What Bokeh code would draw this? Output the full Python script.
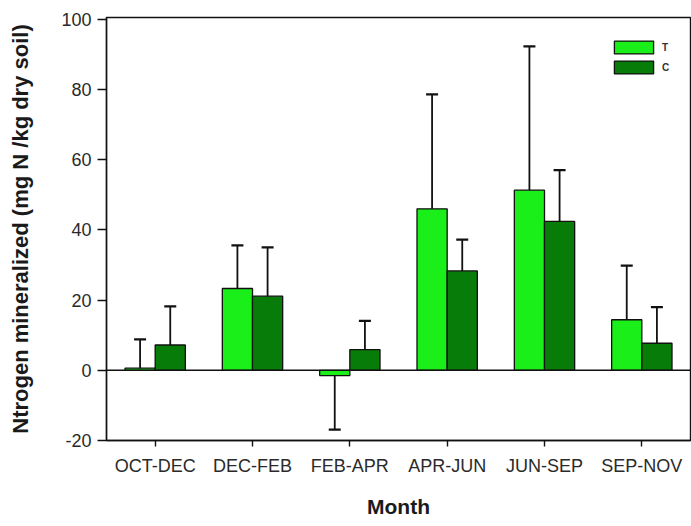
from bokeh.plotting import figure
from bokeh.models import (ColumnDataSource, FactorRange, Range1d, FixedTicker, Whisker,
                          TeeHead, Span, Legend, LegendItem)
from bokeh.transform import dodge
from bokeh.embed import file_html
from bokeh.resources import INLINE

# Sampling periods and nitrogen mineralization (mg N / kg dry soil)
months = ["OCT-DEC", "DEC-FEB", "FEB-APR", "APR-JUN", "JUN-SEP", "SEP-NOV"]
t_values = [0.6, 23.3, -1.5, 46.0, 51.3, 14.4]
t_errors = [8.2, 12.3, 15.4, 32.6, 41.0, 15.4]
c_values = [7.2, 21.1, 5.9, 28.3, 42.4, 7.7]
c_errors = [11.0, 13.9, 8.2, 8.9, 14.6, 10.3]
y_ticks = [-20, 0, 20, 40, 60, 80, 100]

T_COLOR = "#1aef1a"
C_COLOR = "#087c08"
FONT = "Liberation Sans"


def tips(vals, errs):
    # error bars extend away from zero, in the direction of the mean
    return [v + e if v >= 0 else v - e for v, e in zip(vals, errs)]


src = ColumnDataSource(dict(
    month=months,
    t=t_values, t_tip=tips(t_values, t_errors),
    c=c_values, c_tip=tips(c_values, c_errors),
))

p = figure(width=691, height=526, x_range=FactorRange(*months, range_padding=0),
           y_range=Range1d(-20, 100.5), output_backend="svg", toolbar_location=None,
           min_border_left=106, min_border_right=1, min_border_top=17, min_border_bottom=86)
p.background_fill_color = "white"
p.border_fill_color = "white"
p.outline_line_color = "#111111"
p.outline_line_width = 1.4
p.xgrid.visible = False
p.ygrid.visible = False

# error bars first, bars drawn on top
for col, tip, off in (("t", "t_tip", -0.155), ("c", "c_tip", 0.155)):
    w = Whisker(source=src, base=dodge("month", off, range=p.x_range), lower=col, upper=tip,
                line_color="#111111", line_width=1.8, lower_head=None,
                upper_head=TeeHead(size=12, line_color="#111111", line_width=2.2),
                level="glyph")
    p.add_layout(w)

rt = p.vbar(x=dodge("month", -0.155, range=p.x_range), top="t", bottom=0, width=0.31,
            source=src, fill_color=T_COLOR, line_color="#111111", line_width=1.3)
rc = p.vbar(x=dodge("month", 0.155, range=p.x_range), top="c", bottom=0, width=0.31,
            source=src, fill_color=C_COLOR, line_color="#111111", line_width=1.3)

p.add_layout(Span(location=0, dimension="width", line_color="#111111", line_width=1.4))

legend = Legend(items=[LegendItem(label="T", renderers=[rt]), LegendItem(label="C", renderers=[rc])],
                location=(503, 365), orientation="vertical",
                glyph_width=49, glyph_height=16, label_height=16, label_width=8,
                spacing=4, padding=0, margin=0, label_standoff=4,
                border_line_color=None, background_fill_alpha=0,
                label_text_font=FONT, label_text_font_size="10px",
                label_text_font_style="bold", label_text_color="#333333")
p.add_layout(legend)

# y axis
p.yaxis.ticker = FixedTicker(ticks=y_ticks)
p.yaxis.major_label_overrides = {t: str(t) for t in y_ticks}
p.yaxis.axis_label = "Ntrogen mineralized (mg N /kg dry soil)"
p.yaxis.axis_label_text_font = FONT
p.yaxis.axis_label_text_font_size = "22px"
p.yaxis.axis_label_text_font_style = "bold"
p.yaxis.axis_label_text_color = "#1a1a1a"
p.yaxis.axis_label_standoff = 25
p.yaxis.major_label_text_font = FONT
p.yaxis.major_label_text_font_size = "18px"
p.yaxis.major_label_text_color = "#2a2a2a"
p.yaxis.major_label_standoff = 6
p.yaxis.major_tick_out = 9
p.yaxis.major_tick_in = 0
p.yaxis.minor_tick_line_color = None

# x axis
p.xaxis.axis_label = "Month"
p.xaxis.axis_label_text_font = FONT
p.xaxis.axis_label_text_font_size = "21px"
p.xaxis.axis_label_text_font_style = "bold"
p.xaxis.axis_label_text_color = "#1a1a1a"
p.xaxis.axis_label_standoff = 16
p.xaxis.major_label_text_font = FONT
p.xaxis.major_label_text_font_size = "18px"
p.xaxis.major_label_text_color = "#2a2a2a"
p.xaxis.major_label_standoff = 9
p.xaxis.major_tick_out = 6
p.xaxis.major_tick_in = 0

for ax in (p.xaxis, p.yaxis):
    ax.axis_line_color = "#111111"
    ax.axis_line_width = 1.4
    ax.major_tick_line_color = "#111111"
    ax.major_tick_line_width = 1.4

open("out.html", "w").write(file_html(p, INLINE))
